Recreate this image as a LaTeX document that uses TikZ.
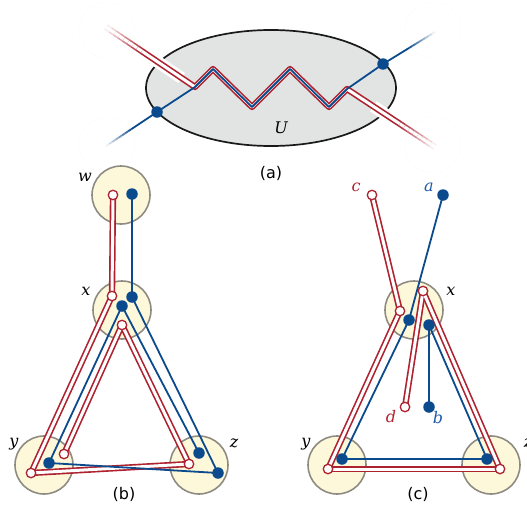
\documentclass[tikz,border=0pt]{standalone}
\usepackage{fontspec}
\setmainfont{DejaVu Sans}
\newfontfamily\lblfont{DejaVu Serif}
\usetikzlibrary{calc, shapes.geometric}
\definecolor{pathRed}{HTML}{AE2230}
\definecolor{pathBlue}{HTML}{0B4A8C}
\definecolor{lblBlue}{HTML}{1F5BA8}
\definecolor{blobFill}{HTML}{FDF8DA}
\definecolor{blobEdge}{HTML}{8E8C82}
\definecolor{regionFill}{HTML}{E2E4E3}
\tikzset{
  blob/.style={circle, draw=blobEdge, fill=blobFill, line width=1.6pt, minimum size=58pt, inner sep=0pt},
  ghost/.style={circle, draw=black!7, dotted, fill=white, minimum size=56pt, inner sep=0pt},
  region/.style={ellipse, draw=black!90, fill=regionFill, line width=1.7pt, minimum width=250pt, minimum height=116pt},
  opendot/.style={circle, draw=pathRed, fill=white, line width=1.3pt, minimum size=9.5pt, inner sep=0pt},
  fulldot/.style={circle, fill=pathBlue, minimum size=11.5pt, inner sep=0pt},
  redouter/.style={pathRed, line width=6.3pt, line join=round},
  redinner/.style={white, line width=3pt, line join=round},
  blueline/.style={pathBlue, line width=1.8pt, line join=round},
  halo/.style={white, line width=12pt},
  lbl/.style={font=\lblfont\itshape\fontsize{16}{16}\selectfont, inner sep=0pt},
  panellabel/.style={font=\fontsize{16}{16}\selectfont, inner sep=0pt},
}

\begin{document}
\begin{tikzpicture}[x=1pt, y=-1pt]
  \useasboundingbox (0,0) rectangle (527,506);

  % (a) the region U
  \foreach \gx/\gy [count=\i] in {107/30, 107/145, 433/30, 433/145}
    \node[ghost] (ghost\i) at (\gx,\gy) {};
  \node[region] (U) at (271,88) {};
  \node[lbl] (Ulbl) at (281,128) {U};

  \coordinate (r0) at (106,27);
  \coordinate (r2) at (435,147);
  \coordinate (b0) at (106,146);
  \coordinate (bl) at (157,112);
  \coordinate (br) at (383,64);
  \coordinate (b3) at (435,32);
  \coordinate (z0) at (195,87);
  \coordinate (z1) at (213,69);
  \coordinate (z2) at (252,107);
  \coordinate (z3) at (290,69);
  \coordinate (z4) at (329,107);
  \coordinate (z5) at (347,89);

  \draw[halo] (r0) -- ($(r0)!0.85!(z0)$);
  \draw[halo] ($(z5)!0.3!(r2)$) -- (r2);

  \draw[redouter] ($(r0)!0.4!(z0)$) -- (z0) -- (z1) -- (z2) -- (z3) -- (z4) -- (z5) -- ($(z5)!0.6!(r2)$);
  \draw[redinner] ($(r0)!0.4!(z0)$) -- (z0) -- (z1) -- (z2) -- (z3) -- (z4) -- (z5) -- ($(z5)!0.6!(r2)$);
  % faded ends
  \foreach \i in {0,...,7} {
    \pgfmathsetmacro\s{\i*0.05}
    \pgfmathsetmacro\e{(\i+1)*0.05}
    \pgfmathtruncatemacro\k{8+\i*12}
    \draw[redouter, pathRed!\k] ($(r0)!\s!(z0)$) -- ($(r0)!\e!(z0)$);
    \draw[redinner] ($(r0)!\s!(z0)$) -- ($(r0)!\e!(z0)$);
    \draw[redouter, pathRed!\k] ($(r2)!\s!(z5)$) -- ($(r2)!\e!(z5)$);
    \draw[redinner] ($(r2)!\s!(z5)$) -- ($(r2)!\e!(z5)$);
    \draw[blueline, pathBlue!\k] ($(b0)!\s*1.25!(bl)$) -- ($(b0)!\e*1.25!(bl)$);
    \draw[blueline, pathBlue!\k] ($(b3)!\s*1.25!(br)$) -- ($(b3)!\e*1.25!(br)$);
  }
  \draw[blueline] ($(b0)!0.5!(bl)$) -- (bl) -- (z0) -- (z1) -- (z2) -- (z3) -- (z4) -- (z5) -- (br) -- ($(b3)!0.5!(br)$);
  \node[fulldot] (dl) at (bl) {};
  \node[fulldot] (dr) at (br) {};
  \node[panellabel] (capa) at (271,173) {(a)};

  % (b)
  \node[blob] (wb) at (121,195) {};
  \node[blob] (xb) at (122,310) {};
  \node[blob] (yb) at (44,465) {};
  \node[blob] (zb) at (199,465) {};
  \node[lbl] (lwb) at (85,177) {w};
  \node[lbl] (lxb) at (86,291) {x};
  \node[lbl] (lyb) at (14,444) {y};
  \node[lbl] (lzb) at (234,443) {z};

  \coordinate (bw1) at (113,195);
  \coordinate (bw2) at (132,194);
  \coordinate (bx1) at (112,296);
  \coordinate (bx2) at (132,297);
  \coordinate (bx3) at (122,306);
  \coordinate (bx4) at (122,325);
  \coordinate (by1) at (31,473);
  \coordinate (by2) at (49,463);
  \coordinate (by3) at (64,454);
  \coordinate (bz1) at (189,464);
  \coordinate (bz2) at (199,453);
  \coordinate (bz3) at (218,473);

  \def\bred{bw1/bx1, bx1/by1, bx4/by3, bx4/bz1, by1/bz1}
  \foreach \p/\q in \bred \draw[redouter] (\p) -- (\q);
  \foreach \p/\q in \bred \draw[redinner] (\p) -- (\q);
  \foreach \p/\q in {bw2/bx2, bx3/by2, bx3/bz2, bx2/bz3, by2/bz3}
    \draw[blueline] (\p) -- (\q);
  \foreach \p in {bw1, bx1, bx4, by1, by3, bz1}
    \node[opendot] (o\p) at (\p) {};
  \foreach \p in {bw2, bx2, bx3, by2, bz2, bz3}
    \node[fulldot] (f\p) at (\p) {};
  \node[panellabel] (capb) at (124,494) {(b)};

  % (c)
  \node[blob] (xc) at (414,310) {};
  \node[blob] (yc) at (337,465) {};
  \node[blob] (zc) at (491,465) {};
  \node[lbl] (lxc) at (451,291) {x};
  \node[lbl] (lyc) at (306,444) {y};
  \node[lbl] (lzc) at (528,443) {z};
  \node[lbl, pathRed] (lcc) at (356,187) {c};
  \node[lbl, lblBlue] (lac) at (429,187) {a};
  \node[lbl, pathRed] (ldc) at (391,417) {d};
  \node[lbl, lblBlue] (lbc) at (438,418) {b};

  \coordinate (cc) at (372,195);
  \coordinate (ca) at (443,195);
  \coordinate (cx1) at (400,311);
  \coordinate (cx2) at (409,320);
  \coordinate (cx3) at (423,291);
  \coordinate (cx4) at (429,325);
  \coordinate (cd) at (405,407);
  \coordinate (cb) at (429,407);
  \coordinate (cy1) at (328,469);
  \coordinate (cy2) at (342,459);
  \coordinate (cz1) at (500,469);
  \coordinate (cz2) at (487,459);

  \def\cred{cc/cx1, cx1/cy1, cx3/cd, cx3/cz1, cy1/cz1}
  \foreach \p/\q in \cred \draw[redouter] (\p) -- (\q);
  \foreach \p/\q in \cred \draw[redinner] (\p) -- (\q);
  \foreach \p/\q in {ca/cx2, cx2/cy2, cx4/cb, cx4/cz2, cy2/cz2}
    \draw[blueline] (\p) -- (\q);
  \foreach \p in {cc, cx1, cx3, cd, cy1, cz1}
    \node[opendot] (o\p) at (\p) {};
  \foreach \p in {ca, cx2, cx4, cb, cy2, cz2}
    \node[fulldot] (f\p) at (\p) {};
  \node[panellabel] (capc) at (418,494) {(c)};
\end{tikzpicture}
\end{document}
